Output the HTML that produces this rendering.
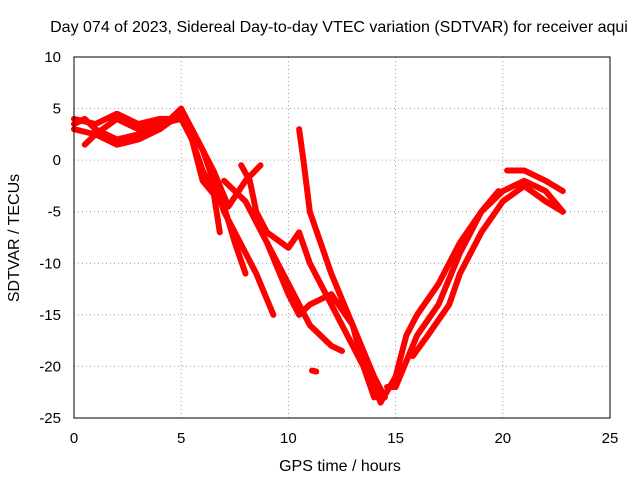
<!DOCTYPE html>
<html><head><meta charset="utf-8"><style>
body{margin:0;background:#fff}
svg{display:block;font-family:"Liberation Sans",sans-serif}
</style></head><body>
<svg id="c" width="640" height="480">
<text x="339" y="32" font-size="16" text-anchor="middle">Day 074 of 2023, Sidereal Day-to-day VTEC variation (SDTVAR) for receiver aqui</text>
<text transform="translate(19,238) rotate(-90)" font-size="16" text-anchor="middle">SDTVAR / TECUs</text>
<text x="340" y="471" font-size="16" text-anchor="middle">GPS time / hours</text>
<g id="grid"></g><g id="data"></g>
<rect x="74" y="57" width="536" height="361" fill="none" stroke="#000"/>
</svg>
<script>
const xTicks=[0,5,10,15,20,25];
const yTicks=[10,5,0,-5,-10,-15,-20,-25];
const tracks=[
[[0,3.5],[0.5,4],[1,3],[2,2],[3,2.5],[4,3],[5,4.5],[5.5,2],[6,-1],[6.5,-3],[6.8,-7]],
[[0,3],[1,2.5],[2,4],[3,3],[4,3.5],[5,4],[5.5,2],[6,-2],[7,-4.5],[7.5,-8],[8,-11]],
[[0.5,1.5],[1,2.5],[2,1.5],[3,2],[4,3],[5,5],[6,1],[6.5,-2],[7,-5],[7.5,-7],[8.5,-11],[9.3,-15]],
[[0,4],[1,3.5],[2,4.5],[3,3.5],[4,4],[5,4],[5.5,3],[6.5,-1],[7.2,-4.5],[8,-2],[8.7,-0.5]],
[[7.8,-0.5],[8.2,-2],[8.5,-5],[9,-7],[10,-8.5],[10.5,-7],[11,-10],[12,-14],[13,-18],[14,-22],[14.3,-23.5]],
[[7,-2],[8,-4],[9,-8],[10,-12],[11,-16],[12,-18],[12.5,-18.5]],
[[10.5,3],[10.7,0],[11,-5],[12,-11],[13,-16],[14,-21],[14.5,-23]],
[[9,-8],[10,-13],[10.5,-15],[11,-14],[12,-13],[13,-16],[13.5,-20],[14,-23]],
[[14.3,-23.5],[15,-21],[15.5,-17],[16,-15],[17,-12],[18,-8],[19,-5],[19.8,-3]],
[[14.6,-22],[15,-22],[16,-17],[17,-14],[18,-9],[19,-5],[20,-3],[21,-2],[22,-3],[22.8,-5]],
[[15.8,-19],[16.5,-17],[17.5,-14],[18,-11],[19,-7],[20,-4],[21,-2.5],[22,-4],[22.8,-5]],
[[20.2,-1],[21,-1],[22,-2],[22.8,-3]],
[[11.1,-20.4],[11.3,-20.5]]
];
const X=v=>74+v*(536/25), Y=v=>57+(10-v)*(361/35);
const ns="http://www.w3.org/2000/svg",svg=document.getElementById('c');
const g=document.getElementById('grid'),d=document.getElementById('data');
function mk(t,a,p){const e=document.createElementNS(ns,t);for(const k in a)e.setAttribute(k,a[k]);p.appendChild(e);return e;}
xTicks.forEach(t=>{
 const l=mk('line',{x1:X(t),x2:X(t),y1:57,y2:418,stroke:'#999','stroke-dasharray':'1,3'},g);
 
 
 const tx=mk('text',{x:X(t),y:443,'font-size':15,'text-anchor':'middle'},g);tx.textContent=t;
 
 
});
yTicks.forEach(t=>{
 const l=mk('line',{x1:74,x2:610,y1:Y(t),y2:Y(t),stroke:'#999','stroke-dasharray':'1,3'},g);
 
 
 const tx=mk('text',{x:61,y:Y(t)+5,'font-size':15,'text-anchor':'end'},g);tx.textContent=t;
 
 
});
tracks.forEach(tr=>{
 const p=mk('polyline',{points:tr.map(q=>X(q[0])+','+Y(q[1])).join(' '),fill:'none',stroke:'#f00','stroke-width':6,'stroke-linejoin':'round','stroke-linecap':'round'},d);
 
 
});
</script>
</body></html>
